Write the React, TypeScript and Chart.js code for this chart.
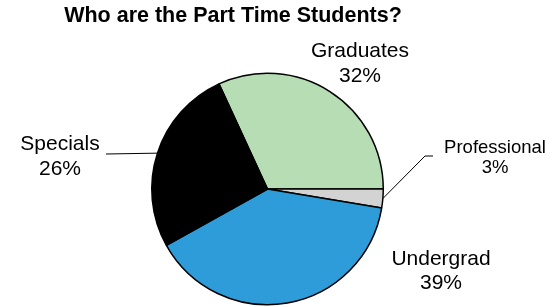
import React, { useEffect, useRef } from "react";
import { Chart, registerables } from "chart.js";

Chart.register(...registerables);

const categories = ["Graduates", "Professional", "Undergrad", "Specials"];
const values = [31.9, 2.6, 39.3, 26.2];
const percentLabels = ["32%", "3%", "39%", "26%"];
const colors = ["#b7ddb4", "#d3d3d3", "#2e9cd9", "#000000"];
const titleText = "Who are the Part Time Students?";

// label layout: center x, first baseline y, font size, line gap, leader line end (or null)
const labelLayout = [
  { x: 360, y: 57, size: 21, gap: 25, leader: null as null | number[] },
  { x: 495, y: 153, size: 18.5, gap: 20, leader: [425, 156, 433, 156] },
  { x: 441, y: 265, size: 21, gap: 24, leader: null as null | number[] },
  { x: 60, y: 150, size: 21, gap: 25, leader: [106, 154] },
];

const labelPlugin = {
  id: "customLabels",
  afterDraw(chart: any) {
    const ctx = chart.ctx;
    ctx.save();
    // title
    ctx.fillStyle = "#000";
    ctx.font = "bold 21.5px 'Liberation Sans', Arial, sans-serif";
    ctx.textAlign = "center";
    ctx.textBaseline = "alphabetic";
    ctx.fillText(titleText, 233, 22);

    const meta = chart.getDatasetMeta(0);
    meta.data.forEach((arc: any, i: number) => {
      const lay = labelLayout[i];
      ctx.font = `${lay.size}px 'Liberation Sans', Arial, sans-serif`;
      ctx.fillStyle = "#000";
      ctx.textAlign = "center";
      ctx.fillText(categories[i], lay.x, lay.y);
      ctx.fillText(percentLabels[i], lay.x, lay.y + lay.gap);
      if (lay.leader) {
        const mid = (arc.startAngle + arc.endAngle) / 2;
        const ex = arc.x + arc.outerRadius * Math.cos(mid);
        const ey = arc.y + arc.outerRadius * Math.sin(mid);
        ctx.beginPath();
        ctx.strokeStyle = "#000";
        ctx.lineWidth = 1;
        ctx.moveTo(ex, ey);
        for (let k = 0; k < lay.leader.length; k += 2) {
          ctx.lineTo(lay.leader[k], lay.leader[k + 1]);
        }
        ctx.stroke();
      }
    });
    ctx.restore();
  },
};

export default function App() {
  const ref = useRef<HTMLCanvasElement>(null);
  useEffect(() => {
    if (!ref.current) return;
    const chart = new Chart(ref.current, {
      type: "pie",
      data: {
        labels: categories,
        datasets: [
          {
            data: values,
            backgroundColor: colors,
            borderColor: "#000",
            borderWidth: 1.5,
          },
        ],
      },
      options: {
        responsive: false,
        animation: false,
        rotation: -24.8,
        layout: { padding: { left: 151, top: 72, right: 176, bottom: 1 } },
        plugins: {
          legend: { display: false },
          title: { display: false },
          tooltip: { enabled: false },
        },
      },
      plugins: [labelPlugin],
    });
    return () => chart.destroy();
  }, []);
  return (
    <div style={{ position: "fixed", left: 0, top: 0, width: 560, height: 307, background: "#fff" }}>
      <canvas ref={ref} width={560} height={307} />
    </div>
  );
}
